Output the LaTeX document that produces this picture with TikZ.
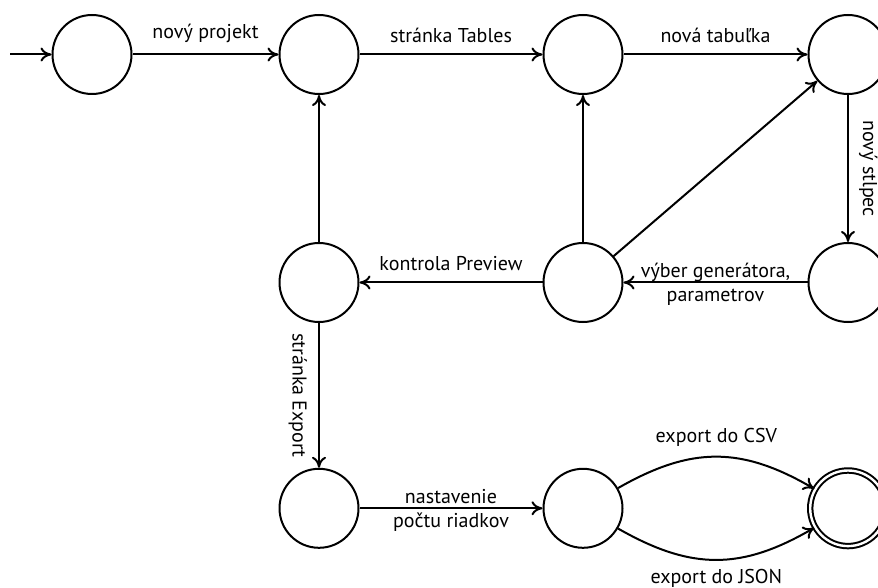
\documentclass[tikz,border=0pt]{standalone}
\usepackage{fontspec}
\setmainfont{PT Sans}
\usetikzlibrary{arrows.meta}
\begin{document}
\begin{tikzpicture}[x=0.5pt,y=-0.5pt,
  st/.style={circle,draw,line width=1pt,minimum size=39.5pt,inner sep=0pt},
  fin/.style={st,double,double distance=1.2pt,minimum size=37.8pt},
  edge/.style={-{Computer Modern Rightarrow[length=5.5pt,width=7pt]},line width=1pt},
  lbl/.style={font=\fontsize{10}{12}\selectfont,inner sep=5.5pt,align=center}]
\clip (0,0) rectangle (878,588);
% states
\node[st] (q0) at (92,54.5) {};
\node[st] (q1) at (319,54.5) {};
\node[st] (q2) at (583,54.5) {};
\node[st] (q3) at (848,54.5) {};
\node[st] (q4) at (848,282.5) {};
\node[st] (q5) at (583,282.5) {};
\node[st] (q6) at (319,282.5) {};
\node[st] (q7) at (319,508.3) {};
\node[st] (q8) at (583,508.3) {};
\node[fin] (q9) at (848,508.3) {};
\coordinate (start) at (10,54.5);
% transitions
\draw[edge] (start) -- (q0);
\draw[edge] (q0) -- node[lbl,above] {nový projekt} (q1);
\draw[edge] (q1) -- node[lbl,above] {stránka Tables} (q2);
\draw[edge] (q2) -- node[lbl,above] {nová tabuľka} (q3);
\draw[edge] (q3) -- node[lbl,rotate=-90,anchor=south,inner sep=5pt] {nový stĺpec} (q4);
\draw[edge] (q4) -- node[lbl,inner sep=0pt,yshift=-1pt] {výber generátora,\\parametrov} (q5);
\draw[edge] (q5) -- (q2);
\draw[edge] (q5) -- (q3);
\draw[edge] (q5) -- node[lbl,above] {kontrola Preview} (q6);
\draw[edge] (q6) -- (q1);
\draw[edge] (q6) -- node[lbl,rotate=-90,anchor=north,inner sep=5.5pt] {stránka Export} (q7);
\draw[edge] (q7) -- node[lbl,inner sep=0pt,yshift=-1pt] {nastavenie\\počtu riadkov} (q8);
\draw[edge] (q8) to[bend left=30,looseness=1.1] node[lbl,above,inner sep=4.5pt] {export do CSV} (q9);
\draw[edge] (q8) to[bend right=30,looseness=1.1] node[lbl,below,inner sep=4pt] {export do JSON} (q9);
\end{tikzpicture}
\end{document}
